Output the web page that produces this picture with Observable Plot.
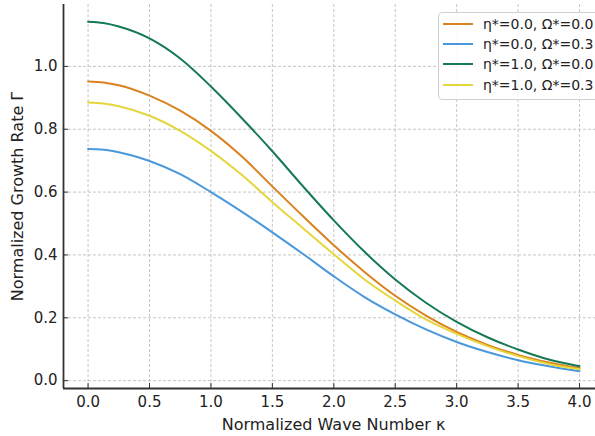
<!DOCTYPE html>
<html>
<head>
<meta charset="utf-8">
<script src="https://cdn.jsdelivr.net/npm/d3@7"></script>
<script src="https://cdn.jsdelivr.net/npm/@observablehq/plot@0.6"></script>
<style>
  html, body { margin: 0; padding: 0; background: #fff; }
  #wrap { position: relative; width: 595px; height: 436px; overflow: hidden; font-family: "DejaVu Sans", sans-serif; }
  #legend { position: absolute; left: 438px; top: 12px; width: 170px; padding: 1px 0 4px 0;
            background: rgba(255,255,255,0.85); border: 1px solid #cfcfcf; border-radius: 4px; box-sizing: border-box; }
  .row { display: flex; align-items: center; height: 20.2px; font-size: 14px; color: #222; white-space: nowrap; }
  .sw { width: 30px; height: 2px; margin-left: 4px; margin-right: 10px; }
</style>
</head>
<body>
<div id="wrap"></div>
<script>
// ---- data ----
const kValues = [0, 0.125, 0.25, 0.5, 0.75, 1.0, 1.25, 1.5, 1.75, 2.0, 2.25, 2.5, 2.75, 3.0, 3.25, 3.5, 3.75, 4.0];
const gammaEta0Om0 = [0.952, 0.949, 0.940, 0.907, 0.859, 0.795, 0.714, 0.618, 0.523, 0.431, 0.346, 0.270, 0.207, 0.155, 0.114, 0.082, 0.058, 0.040];
const gammaEta0Om3 = [0.737, 0.735, 0.727, 0.699, 0.657, 0.600, 0.538, 0.472, 0.403, 0.332, 0.266, 0.211, 0.163, 0.123, 0.091, 0.065, 0.046, 0.030];
const gammaEta1Om0 = [1.142, 1.138, 1.127, 1.089, 1.025, 0.936, 0.836, 0.730, 0.618, 0.510, 0.410, 0.322, 0.248, 0.187, 0.138, 0.099, 0.067, 0.046];
const gammaEta1Om3 = [0.885, 0.882, 0.873, 0.843, 0.795, 0.731, 0.655, 0.568, 0.485, 0.402, 0.322, 0.255, 0.195, 0.149, 0.110, 0.078, 0.053, 0.036];
const seriesNames = ["η*=0.0, Ω*=0.0", "η*=0.0, Ω*=0.3", "η*=1.0, Ω*=0.0", "η*=1.0, Ω*=0.3"];
const seriesColors = ["#d9821f", "#4a98dc", "#157a52", "#e4d63c"];
const xTicks = [0, 0.5, 1.0, 1.5, 2.0, 2.5, 3.0, 3.5, 4.0];
const yTicks = [0, 0.2, 0.4, 0.6, 0.8, 1.0];
const xLabel = "Normalized Wave Number κ";
const yLabel = "Normalized Growth Rate Γ";

// ---- layout ----
const W = 595, H = 436;
const mL = 63, mR = 0, mT = 4, mB = 48;
const frameW = W - mL - mR, frameH = H - mT - mB;
const xDomain = [-0.2, 4.13];
const yDomain = [-0.025, 1.197];

const allSeries = [gammaEta0Om0, gammaEta0Om3, gammaEta1Om0, gammaEta1Om3];
const table = allSeries.flatMap((vals, i) => kValues.map((k, j) => ({k, g: vals[j], s: seriesNames[i]})));

const chart = Plot.plot({
  width: W, height: H,
  marginLeft: mL, marginRight: mR, marginTop: mT, marginBottom: mB,
  x: {domain: xDomain},
  y: {domain: yDomain},
  color: {domain: seriesNames, range: seriesColors},
  style: {fontFamily: "DejaVu Sans, sans-serif", fontSize: "15px", color: "#222", background: "#fff"},
  marks: [
    Plot.gridX(xTicks, {stroke: "#b8b8b8", strokeOpacity: 1, strokeWidth: 0.8, strokeDasharray: "3,2"}),
    Plot.gridY(yTicks, {stroke: "#b8b8b8", strokeOpacity: 1, strokeWidth: 0.8, strokeDasharray: "3,2"}),
    Plot.line(table, {x: "k", y: "g", z: "s", stroke: "s", strokeWidth: 2, curve: "monotone-x"}),
    Plot.tickX(xTicks, {x: d => d, stroke: "#333", strokeWidth: 1, insetTop: frameH - 5}),
    Plot.tickY(yTicks, {y: d => d, stroke: "#333", strokeWidth: 1, insetRight: frameW - 5}),
    Plot.ruleX([xDomain[0]], {stroke: "#333", strokeWidth: 1.8}),
    Plot.ruleY([yDomain[0]], {stroke: "#333", strokeWidth: 1.8}),
    Plot.axisX(xTicks, {tickSize: 0, tickPadding: 8, tickFormat: d => d.toFixed(1), label: null, fontSize: 15, fill: "#222"}),
    Plot.axisY(yTicks, {tickSize: 0, tickPadding: 6, tickFormat: d => d.toFixed(1), label: null, fontSize: 15, fill: "#222"}),
    Plot.text([xLabel], {frameAnchor: "bottom", textAnchor: "middle", lineAnchor: "middle", dy: 36, dx: 4, fontSize: 16, fill: "#222"}),
    Plot.text([yLabel], {frameAnchor: "left", textAnchor: "middle", lineAnchor: "middle", dx: -46, rotate: -90, fontSize: 16, fill: "#222"})
  ]
});

const wrap = document.getElementById("wrap");
wrap.appendChild(chart);

// legend overlay
const legend = document.createElement("div");
legend.id = "legend";
seriesNames.forEach((name, i) => {
  const row = document.createElement("div");
  row.className = "row";
  const sw = document.createElement("span");
  sw.className = "sw";
  sw.style.background = seriesColors[i];
  const tx = document.createElement("span");
  tx.textContent = name;
  row.appendChild(sw);
  row.appendChild(tx);
  legend.appendChild(row);
});
wrap.appendChild(legend);
</script>
</body>
</html>
